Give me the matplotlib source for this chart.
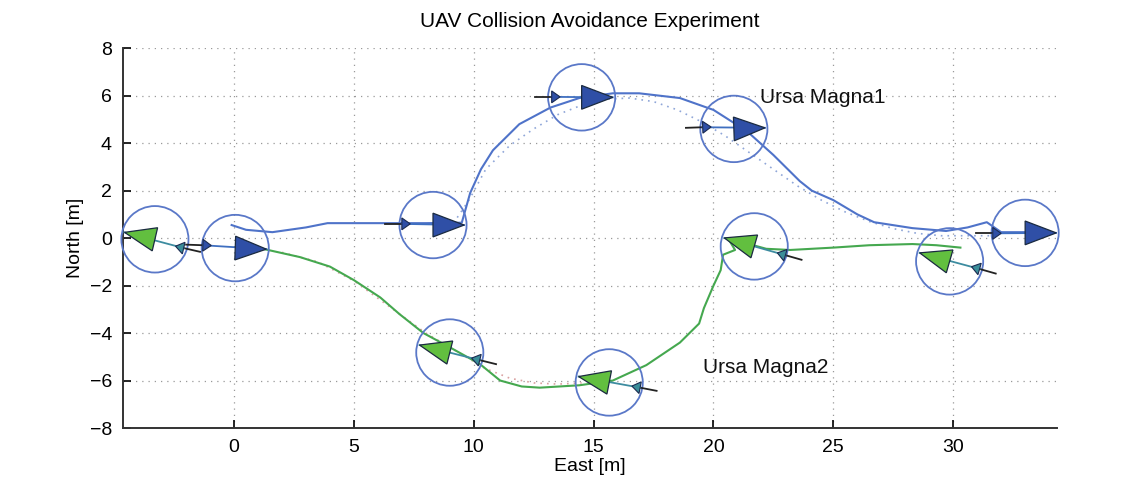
import numpy as np
import matplotlib
matplotlib.use("Agg")
import matplotlib.pyplot as plt
from matplotlib.patches import Polygon, Circle

plt.rcParams["font.family"] = ["Liberation Sans", "DejaVu Sans"]

# flown paths
blue_path_x = [-0.1, 0.5, 1.6, 3.0, 3.9, 6.0, 8.0, 9.5, 9.85, 10.3, 10.8, 11.9, 13.2, 14.4, 15.8,
               16.9, 18.6, 20.0, 21.4, 22.5, 23.6, 24.1, 25.0, 26.0, 26.7, 28.3, 29.7, 30.6, 31.4,
               32.0, 33.1]
blue_path_y = [0.55, 0.35, 0.25, 0.45, 0.63, 0.63, 0.63, 0.65, 1.9, 2.9, 3.7, 4.8, 5.5, 5.9, 6.1,
               6.1, 5.9, 5.4, 4.5, 3.5, 2.4, 2.0, 1.6, 1.0, 0.67, 0.42, 0.3, 0.45, 0.67,
               0.25, 0.25]
green_path_x = [30.3, 29.3, 28.3, 26.5, 25.0, 23.2, 22.2, 21.3, 20.6, 20.9, 20.4, 20.3, 20.0, 19.6,
                19.4, 18.6, 17.2, 15.8, 14.4, 12.75, 12.0, 11.1, 10.25, 9.0, 7.9, 6.9, 6.1, 5.0,
                4.0, 2.75, 1.2]
green_path_y = [-0.4, -0.3, -0.25, -0.3, -0.4, -0.5, -0.45, -0.2, 0.0, -0.5, -0.7, -1.35, -2.0, -2.95,
                -3.6, -4.4, -5.35, -6.0, -6.2, -6.3, -6.25, -6.0, -5.3, -4.6, -4.0, -3.2, -2.5, -1.77,
                -1.2, -0.8, -0.45]

# planned (dotted) paths
blue_plan_x = [9.0, 9.8, 10.5, 11.5, 12.5, 13.5, 14.5, 15.5, 16.5, 17.5, 18.5, 19.5, 20.5, 21.5,
               22.5, 23.5, 24.5, 25.5, 26.5, 27.5, 28.5, 29.5, 30.5, 31.5]
blue_plan_y = [0.4, 1.6, 2.9, 3.9, 4.6, 5.2, 5.6, 5.85, 5.9, 5.75, 5.4, 4.9, 4.3, 3.6,
               2.9, 2.2, 1.6, 1.1, 0.7, 0.4, 0.2, 0.1, 0.1, 0.1]
green_plan_x = [2.0, 3.5, 5.0, 6.5, 8.0, 9.5, 10.5, 11.5, 12.5, 13.5, 14.5]
green_plan_y = [-0.6, -1.0, -1.8, -2.9, -4.0, -4.9, -5.5, -5.9, -6.1, -6.15, -6.1]

# snapshots: vehicle position, heading (deg), estimate marker position
blue_pos_x = [0.05, 8.3, 14.5, 20.85, 33.0]
blue_pos_y = [-0.42, 0.55, 5.93, 4.6, 0.22]
blue_heading = [-2, 0, 0, 2, 0]
blue_est_x = [-1.3, 7.0, 13.25, 19.55, 31.65]
blue_est_y = [-0.3, 0.6, 5.95, 4.67, 0.2]

green_pos_x = [-3.3, 9.0, 15.65, 21.7, 29.85]
green_pos_y = [-0.05, -4.82, -6.08, -0.35, -0.98]
green_heading = [167, 166, 169, 164, 164]
green_est_x = [-2.1, 10.25, 16.94, 23.0, 31.1]
green_est_y = [-0.42, -5.14, -6.3, -0.72, -1.3]

uav_labels = ["Ursa Magna1", "Ursa Magna2"]
label_x = [21.95, 19.55]
label_y = [5.94, -5.43]

xticks = [0, 5, 10, 15, 20, 25, 30]
yticks = [-8, -6, -4, -2, 0, 2, 4, 6, 8]


def triangle(x, y, ang, length, half_w):
    a = np.deg2rad(ang)
    d = np.array([np.cos(a), np.sin(a)])
    n = np.array([-d[1], d[0]])
    p = np.array([x, y])
    return np.array([p + half_w * n, p + length * d, p - half_w * n])


fig = plt.figure(figsize=(11.35, 4.82), dpi=100)
ax = fig.add_axes([0.1084, 0.112, 0.8229, 0.788])

ax.plot(blue_plan_x, blue_plan_y, ls=(0, (1, 3)), color="#8fa6d8", lw=1.2, zorder=2)
ax.plot(green_plan_x, green_plan_y, ls=(0, (1, 3)), color="#d9a0a0", lw=1.2, zorder=2)
ax.plot(blue_path_x, blue_path_y, color="#4f73c9", lw=1.5, zorder=3)
ax.plot(green_path_x, green_path_y, color="#45a84f", lw=1.5, zorder=3)

groups = [
    (blue_pos_x, blue_pos_y, blue_heading, blue_est_x, blue_est_y, "#2f4fa6", "#2f4fa6", "#3f6fc0"),
    (green_pos_x, green_pos_y, green_heading, green_est_x, green_est_y, "#62bf3f", "#3a8d99", "#3d8ca0"),
]
for px, py, hd, ex, ey, big_c, small_c, line_c in groups:
    for i in range(len(px)):
        a = np.deg2rad(hd[i])
        d = np.array([np.cos(a), np.sin(a)])
        ax.add_patch(Circle((px[i], py[i]), 1.4, fill=False, ec="#5a78c8", lw=1.3,
                            zorder=4, clip_on=False))
        # tail behind estimate marker
        ax.plot([ex[i], ex[i] - 0.7 * d[0]], [ey[i], ey[i] - 0.7 * d[1]],
                color="#222222", lw=1.3, zorder=5)
        ax.plot([ex[i], px[i] + 1.3 * d[0]], [ey[i], py[i] + 1.3 * d[1]],
                color=line_c, lw=1.3, zorder=5)
        ax.add_patch(Polygon(triangle(ex[i], ey[i], hd[i], 0.35, 0.25), closed=True,
                             fc=small_c, ec="#1a2a50", lw=0.8, zorder=6))
        ax.add_patch(Polygon(triangle(px[i], py[i], hd[i], 1.3, 0.5), closed=True,
                             fc=big_c, ec="#1a2a40", lw=0.9, zorder=6))

for t, x, y in zip(uav_labels, label_x, label_y):
    ax.text(x, y, t, fontsize=15, va="center", ha="left", color="#111111", zorder=7)

ax.set_xlim(-4.63, 34.33)
ax.set_ylim(-8, 8)
ax.set_xticks(xticks)
ax.set_yticks(yticks)
ax.grid(True, ls=(0, (1, 4)), color="#999999", lw=0.9)
ax.tick_params(direction="in", labelsize=14, length=6, width=1.2, pad=8)
for s in ["top", "right"]:
    ax.spines[s].set_visible(False)
for s in ["left", "bottom"]:
    ax.spines[s].set_linewidth(1.4)
    ax.spines[s].set_color("#333333")

ax.set_title("UAV Collision Avoidance Experiment", fontsize=15, pad=15)
ax.set_xlabel("East [m]", fontsize=14, labelpad=1)
ax.set_ylabel("North [m]", fontsize=14, labelpad=4)

plt.savefig("out.png", dpi=100)
